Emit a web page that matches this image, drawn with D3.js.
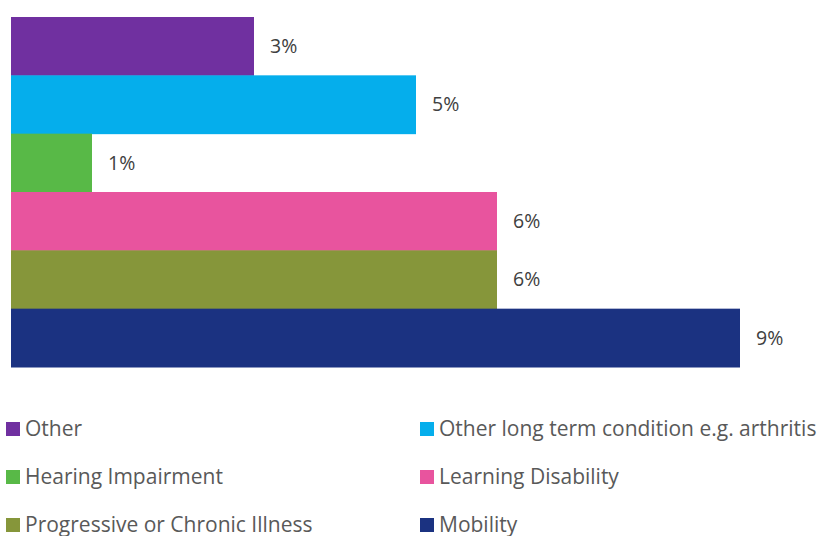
<!DOCTYPE html>
<html>
<head>
<meta charset="utf-8">
<script src="https://cdn.jsdelivr.net/npm/d3@7"></script>
<style>
  html, body { margin: 0; padding: 0; background: #fff; }
  svg { display: block; }
</style>
</head>
<body>
<svg id="chart" width="818" height="536"></svg>
<script>
// Share of respondents by type of disability
const categories = [
  "Other",
  "Other long term condition e.g. arthritis",
  "Hearing Impairment",
  "Learning Disability",
  "Progressive or Chronic Illness",
  "Mobility"
];
const values = [3, 5, 1, 6, 6, 9];
const colors = ["#7030A0", "#05AEEC", "#58B947", "#E8549E", "#86963A", "#1B3281"];

const svg = d3.select("#chart");
const font = "'Open Sans', sans-serif";

const x = d3.scaleLinear().domain([0, 9]).range([11, 740]);
const y = d3.scaleBand().domain(categories).range([17, 367]).padding(0);

// Bars
svg.append("g").selectAll("rect")
  .data(categories)
  .join("rect")
  .attr("x", x(0))
  .attr("y", d => y(d))
  .attr("width", (d, i) => x(values[i]) - x(0))
  .attr("height", y.bandwidth() + 0.5)
  .attr("fill", (d, i) => colors[i]);

// Value labels
svg.append("g").selectAll("text")
  .data(categories)
  .join("text")
  .attr("x", (d, i) => x(values[i]) + 16)
  .attr("y", d => y(d) + y.bandwidth() / 2)
  .attr("dy", "0.35em")
  .attr("font-family", font)
  .attr("font-size", 19.5)
  .attr("fill", "#404040")
  .text((d, i) => values[i] + "%");

// Legend: two columns, three rows
const legend = svg.append("g");
const items = legend.selectAll("g")
  .data(categories)
  .join("g")
  .attr("transform", (d, i) => `translate(${i % 2 === 0 ? 6 : 420}, ${422 + Math.floor(i / 2) * 48})`);

items.append("rect")
  .attr("width", 14)
  .attr("height", 14)
  .attr("fill", (d, i) => colors[i]);

items.append("text")
  .attr("x", 19)
  .attr("y", 7)
  .attr("dy", "0.35em")
  .attr("font-family", font)
  .attr("font-size", 21)
  .attr("fill", "#595959")
  .text(d => d);
</script>
</body>
</html>
